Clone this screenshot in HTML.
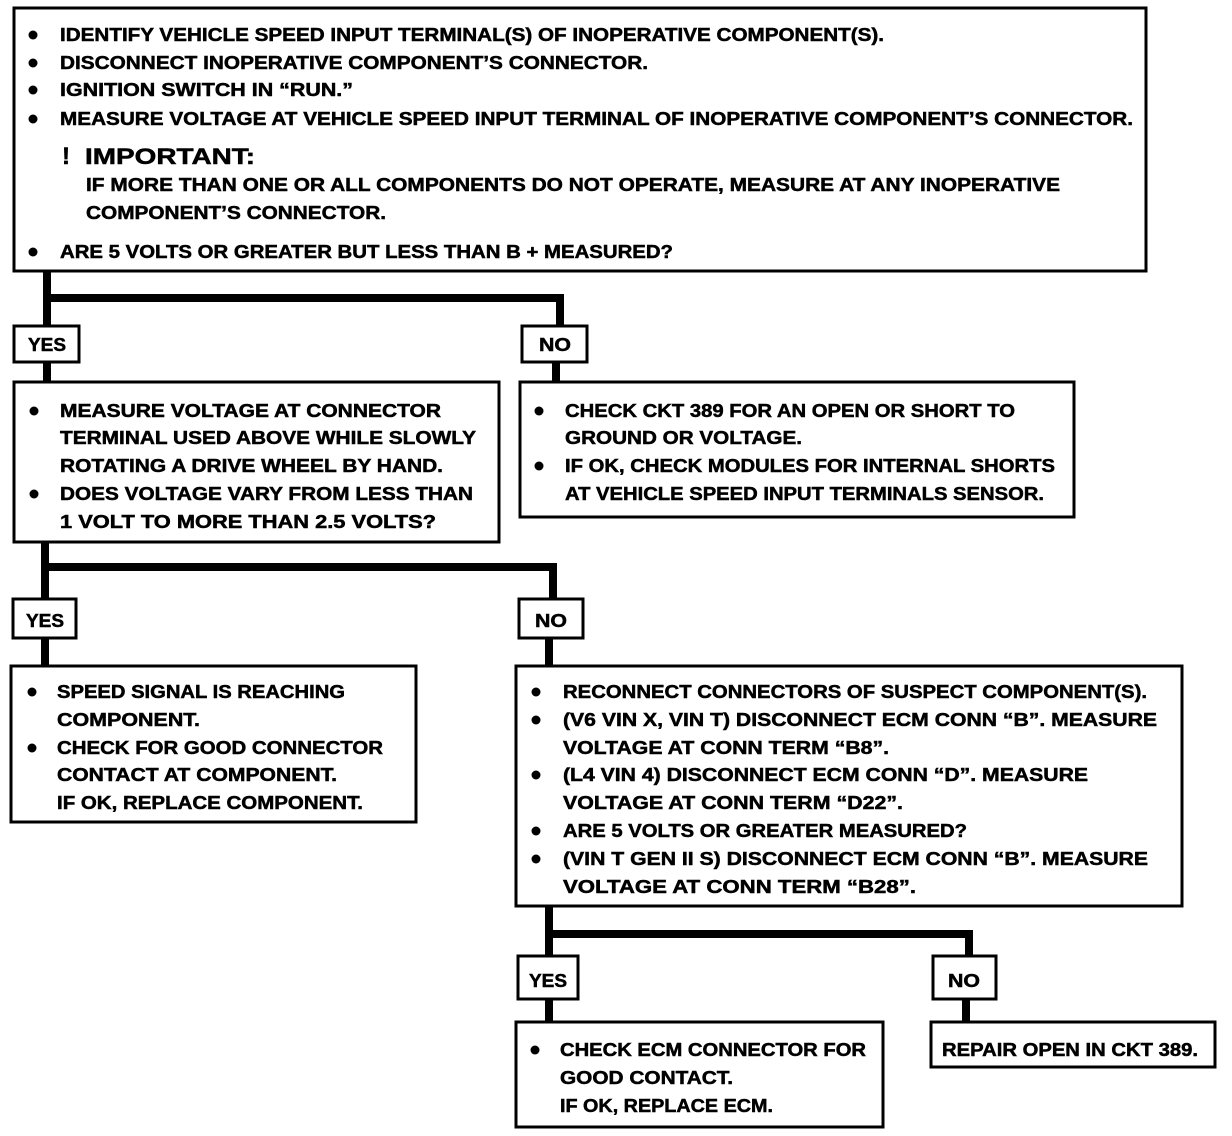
<!DOCTYPE html>
<html><head><meta charset="utf-8"><style>
html,body{margin:0;padding:0;background:#fff;}
svg{display:block;}
text{font-family:"Liberation Sans",sans-serif;font-weight:bold;font-size:18px;fill:#000;stroke:#000;stroke-width:0.5px;}
</style></head><body>
<svg width="1232" height="1136" viewBox="0 0 1232 1136" xmlns="http://www.w3.org/2000/svg">
<g fill="none" stroke="#000" stroke-width="3">
<rect x="14" y="8" width="1132" height="263"/>
<rect x="14" y="326" width="65" height="36"/>
<rect x="522" y="326" width="65" height="36"/>
<rect x="14" y="382" width="485" height="160"/>
<rect x="520" y="382" width="554" height="135"/>
<rect x="13" y="599" width="63" height="39"/>
<rect x="519" y="599" width="64" height="39"/>
<rect x="11" y="666" width="405" height="156"/>
<rect x="516" y="666" width="666" height="240"/>
<rect x="518" y="956" width="60" height="43"/>
<rect x="933" y="956" width="63" height="43"/>
<rect x="516" y="1022" width="367" height="105"/>
<rect x="931" y="1022" width="284" height="45"/>
</g>
<g fill="none" stroke="#000" stroke-width="8">
<path d="M47 272 V326 M43 298 H560 V326 M556 362 V382 M47 362 V382"/>
<path d="M45 543 V599 M41 567 H553 V599 M549 638 V666 M45 638 V666"/>
<path d="M549 907 V956 M545 934 H969 V956 M966 999 V1022 M549 999 V1022"/>
</g>
<g fill="#000">
<circle cx="33" cy="35" r="4.5"/><circle cx="33" cy="63" r="4.5"/><circle cx="33" cy="90" r="4.5"/><circle cx="33" cy="119" r="4.5"/><circle cx="33" cy="252" r="4.5"/>
<circle cx="34" cy="411" r="4.5"/><circle cx="34" cy="494" r="4.5"/>
<circle cx="539" cy="411" r="4.5"/><circle cx="539" cy="466" r="4.5"/>
<circle cx="32" cy="692" r="4.5"/><circle cx="32" cy="748" r="4.5"/>
<circle cx="536" cy="692" r="4.5"/><circle cx="536" cy="720" r="4.5"/><circle cx="536" cy="775" r="4.5"/><circle cx="536" cy="831" r="4.5"/><circle cx="536" cy="859" r="4.5"/>
<circle cx="535" cy="1050" r="4.5"/>
</g>
<g>
<text x="60" y="41" textLength="824" lengthAdjust="spacingAndGlyphs">IDENTIFY VEHICLE SPEED INPUT TERMINAL(S) OF INOPERATIVE COMPONENT(S).</text>
<text x="60" y="69" textLength="588" lengthAdjust="spacingAndGlyphs">DISCONNECT INOPERATIVE COMPONENT’S CONNECTOR.</text>
<text x="60" y="96" textLength="293" lengthAdjust="spacingAndGlyphs">IGNITION SWITCH IN “RUN.”</text>
<text x="60" y="125" textLength="1073" lengthAdjust="spacingAndGlyphs">MEASURE VOLTAGE AT VEHICLE SPEED INPUT TERMINAL OF INOPERATIVE COMPONENT’S CONNECTOR.</text>
<text x="62" y="164" style="font-size:24px">!</text>
<text x="85" y="164" textLength="170" lengthAdjust="spacingAndGlyphs" style="font-size:22px">IMPORTANT:</text>
<text x="86" y="191" textLength="974" lengthAdjust="spacingAndGlyphs">IF MORE THAN ONE OR ALL COMPONENTS DO NOT OPERATE, MEASURE AT ANY INOPERATIVE</text>
<text x="86" y="219" textLength="300" lengthAdjust="spacingAndGlyphs">COMPONENT’S CONNECTOR.</text>
<text x="60" y="258" textLength="613" lengthAdjust="spacingAndGlyphs">ARE 5 VOLTS OR GREATER BUT LESS THAN B + MEASURED?</text>

<text x="28" y="351" textLength="38" lengthAdjust="spacingAndGlyphs">YES</text>
<text x="539" y="351" textLength="32" lengthAdjust="spacingAndGlyphs">NO</text>

<text x="60" y="417" textLength="381" lengthAdjust="spacingAndGlyphs">MEASURE VOLTAGE AT CONNECTOR</text>
<text x="60" y="444" textLength="416" lengthAdjust="spacingAndGlyphs">TERMINAL USED ABOVE WHILE SLOWLY</text>
<text x="60" y="472" textLength="383" lengthAdjust="spacingAndGlyphs">ROTATING A DRIVE WHEEL BY HAND.</text>
<text x="60" y="500" textLength="413" lengthAdjust="spacingAndGlyphs">DOES VOLTAGE VARY FROM LESS THAN</text>
<text x="60" y="528" textLength="376" lengthAdjust="spacingAndGlyphs">1 VOLT TO MORE THAN 2.5 VOLTS?</text>

<text x="565" y="417" textLength="450" lengthAdjust="spacingAndGlyphs">CHECK CKT 389 FOR AN OPEN OR SHORT TO</text>
<text x="565" y="444" textLength="237" lengthAdjust="spacingAndGlyphs">GROUND OR VOLTAGE.</text>
<text x="565" y="472" textLength="490" lengthAdjust="spacingAndGlyphs">IF OK, CHECK MODULES FOR INTERNAL SHORTS</text>
<text x="565" y="500" textLength="479" lengthAdjust="spacingAndGlyphs">AT VEHICLE SPEED INPUT TERMINALS SENSOR.</text>

<text x="26" y="627" textLength="38" lengthAdjust="spacingAndGlyphs">YES</text>
<text x="535" y="627" textLength="32" lengthAdjust="spacingAndGlyphs">NO</text>

<text x="57" y="698" textLength="288" lengthAdjust="spacingAndGlyphs">SPEED SIGNAL IS REACHING</text>
<text x="57" y="726" textLength="143" lengthAdjust="spacingAndGlyphs">COMPONENT.</text>
<text x="57" y="754" textLength="326" lengthAdjust="spacingAndGlyphs">CHECK FOR GOOD CONNECTOR</text>
<text x="57" y="781" textLength="280" lengthAdjust="spacingAndGlyphs">CONTACT AT COMPONENT.</text>
<text x="57" y="809" textLength="306" lengthAdjust="spacingAndGlyphs">IF OK, REPLACE COMPONENT.</text>

<text x="563" y="698" textLength="584" lengthAdjust="spacingAndGlyphs">RECONNECT CONNECTORS OF SUSPECT COMPONENT(S).</text>
<text x="563" y="726" textLength="594" lengthAdjust="spacingAndGlyphs">(V6  VIN X, VIN T) DISCONNECT ECM CONN “B”.  MEASURE</text>
<text x="563" y="754" textLength="326" lengthAdjust="spacingAndGlyphs">VOLTAGE AT CONN TERM “B8”.</text>
<text x="563" y="781" textLength="525" lengthAdjust="spacingAndGlyphs">(L4  VIN 4) DISCONNECT ECM CONN “D”.  MEASURE</text>
<text x="563" y="809" textLength="340" lengthAdjust="spacingAndGlyphs">VOLTAGE AT CONN TERM “D22”.</text>
<text x="563" y="837" textLength="404" lengthAdjust="spacingAndGlyphs">ARE 5 VOLTS OR GREATER MEASURED?</text>
<text x="563" y="865" textLength="585" lengthAdjust="spacingAndGlyphs">(VIN T  GEN II S) DISCONNECT ECM CONN “B”.  MEASURE</text>
<text x="563" y="893" textLength="353" lengthAdjust="spacingAndGlyphs">VOLTAGE AT CONN TERM “B28”.</text>

<text x="529" y="987" textLength="38" lengthAdjust="spacingAndGlyphs">YES</text>
<text x="948" y="987" textLength="32" lengthAdjust="spacingAndGlyphs">NO</text>

<text x="560" y="1056" textLength="306" lengthAdjust="spacingAndGlyphs">CHECK ECM CONNECTOR FOR</text>
<text x="560" y="1084" textLength="173" lengthAdjust="spacingAndGlyphs">GOOD CONTACT.</text>
<text x="560" y="1112" textLength="213" lengthAdjust="spacingAndGlyphs">IF OK, REPLACE ECM.</text>

<text x="942" y="1056" textLength="256" lengthAdjust="spacingAndGlyphs">REPAIR OPEN IN CKT 389.</text>
</g>
</svg>
</body></html>
